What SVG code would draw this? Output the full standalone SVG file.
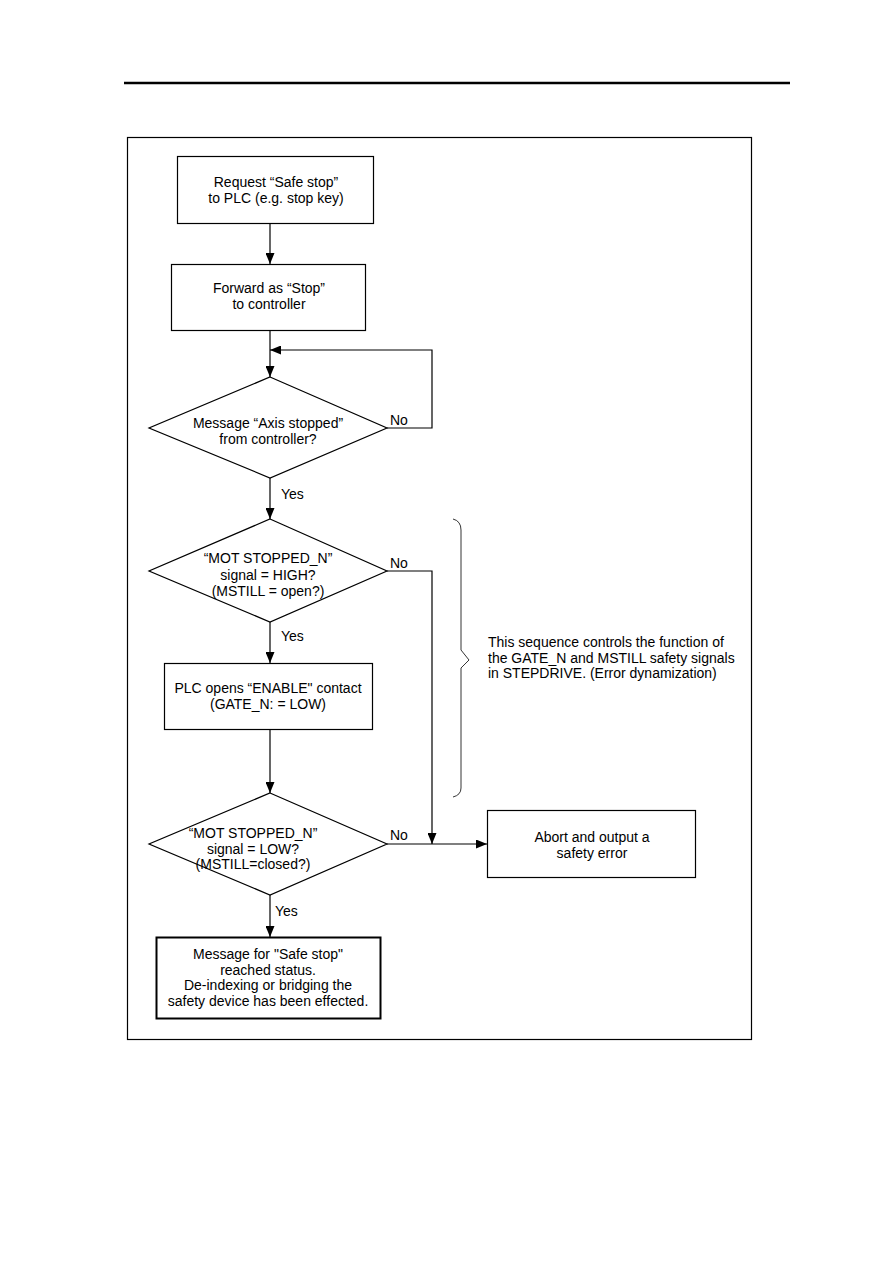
<svg xmlns="http://www.w3.org/2000/svg" width="893" height="1263" viewBox="0 0 893 1263">
<defs>
<marker id="arr" viewBox="0 0 11 9" refX="11" refY="4.5" markerWidth="11" markerHeight="9" markerUnits="userSpaceOnUse" orient="auto">
<path d="M0,0 L11,4.5 L0,9 Z" fill="#000"/>
</marker>
<style>
.t{font-family:"Liberation Sans",Arial,sans-serif;font-size:14px;fill:#000;text-anchor:middle}
.a{font-family:"Liberation Sans",Arial,sans-serif;font-size:14px;fill:#000}
.s{fill:#fff;stroke:#000;stroke-width:1.2}
.c{fill:none;stroke:#000;stroke-width:1.2}
</style>
</defs>
<rect width="893" height="1263" fill="#fff"/>
<line x1="124" y1="83" x2="790" y2="83" stroke="#000" stroke-width="2.5"/>
<rect x="127.5" y="137.5" width="624" height="902" fill="none" stroke="#000" stroke-width="1.2"/>

<g id="connectors">
<line class="c" x1="270" y1="224" x2="270" y2="264" marker-end="url(#arr)"/>
<line class="c" x1="270" y1="331" x2="270" y2="377" marker-end="url(#arr)"/>
<polyline class="c" points="387,428 432,428 432,350 270,350" marker-end="url(#arr)"/>
<line class="c" x1="270" y1="478" x2="270" y2="519" marker-end="url(#arr)"/>
<polyline class="c" points="387,571 432,571 432,844" marker-end="url(#arr)"/>
<line class="c" x1="270" y1="622" x2="270" y2="663" marker-end="url(#arr)"/>
<line class="c" x1="270" y1="730" x2="270" y2="793" marker-end="url(#arr)"/>
<line class="c" x1="387" y1="844" x2="487" y2="844" marker-end="url(#arr)"/>
<line class="c" x1="270" y1="895" x2="270" y2="937" marker-end="url(#arr)"/>
<text class="a" x="390" y="425">No</text>
<text class="a" x="281" y="499">Yes</text>
<text class="a" x="390" y="568">No</text>
<text class="a" x="281" y="641">Yes</text>
<text class="a" x="390" y="840">No</text>
<text class="a" x="275" y="916">Yes</text>
</g>

<g id="n1">
<rect class="s" x="177.5" y="156.5" width="196" height="67"/>
<text class="t" x="276" y="187">Request “Safe stop”</text>
<text class="t" x="276" y="203">to PLC (e.g. stop key)</text>
</g>
<g id="n2">
<rect class="s" x="171.5" y="264.5" width="194" height="66"/>
<text class="t" x="269" y="293">Forward as “Stop”</text>
<text class="t" x="269" y="309">to controller</text>
</g>
<g id="d1">
<polygon class="s" points="270,377 387,428 270,478 149,428"/>
<text class="t" x="268" y="428">Message “Axis stopped”</text>
<text class="t" x="268" y="444">from controller?</text>
</g>
<g id="d2">
<polygon class="s" points="270,519 387,571 270,622 149,571"/>
<text class="t" x="268" y="563">“MOT STOPPED_N”</text>
<text class="t" x="268" y="580">signal = HIGH?</text>
<text class="t" x="268" y="596">(MSTILL = open?)</text>
</g>
<g id="n3">
<rect class="s" x="164.5" y="663.5" width="208" height="66"/>
<text class="t" x="268" y="693">PLC opens “ENABLE" contact</text>
<text class="t" x="268" y="709">(GATE_N: = LOW)</text>
</g>
<g id="d3">
<polygon class="s" points="270,793 387,844 270,895 149,844"/>
<text class="t" x="253" y="838">“MOT STOPPED_N”</text>
<text class="t" x="253" y="854">signal = LOW?</text>
<text class="t" x="253" y="869">(MSTILL=closed?)</text>
</g>
<g id="n4">
<rect class="s" x="487.5" y="810.5" width="208" height="67"/>
<text class="t" x="592" y="842">Abort and output a</text>
<text class="t" x="592" y="858">safety error</text>
</g>
<g id="n5">
<rect x="156.5" y="937.5" width="224" height="81" fill="#fff" stroke="#000" stroke-width="2"/>
<text class="t" x="268" y="959">Message for "Safe stop"</text>
<text class="t" x="268" y="975">reached status.</text>
<text class="t" x="268" y="990">De-indexing or bridging the</text>
<text class="t" x="268" y="1006">safety device has been effected.</text>
</g>
<g id="note">
<path d="M453,519 Q461,521 461,530 L461,650 L469,660 L461,668 L461,788 Q461,795 453,797" fill="none" stroke="#000" stroke-width="0.8"/>
<text class="a" x="488" y="647">This sequence controls the function of</text>
<text class="a" x="488" y="663">the GATE_N and MSTILL safety signals</text>
<text class="a" x="488" y="678">in STEPDRIVE. (Error dynamization)</text>
</g>
</svg>
